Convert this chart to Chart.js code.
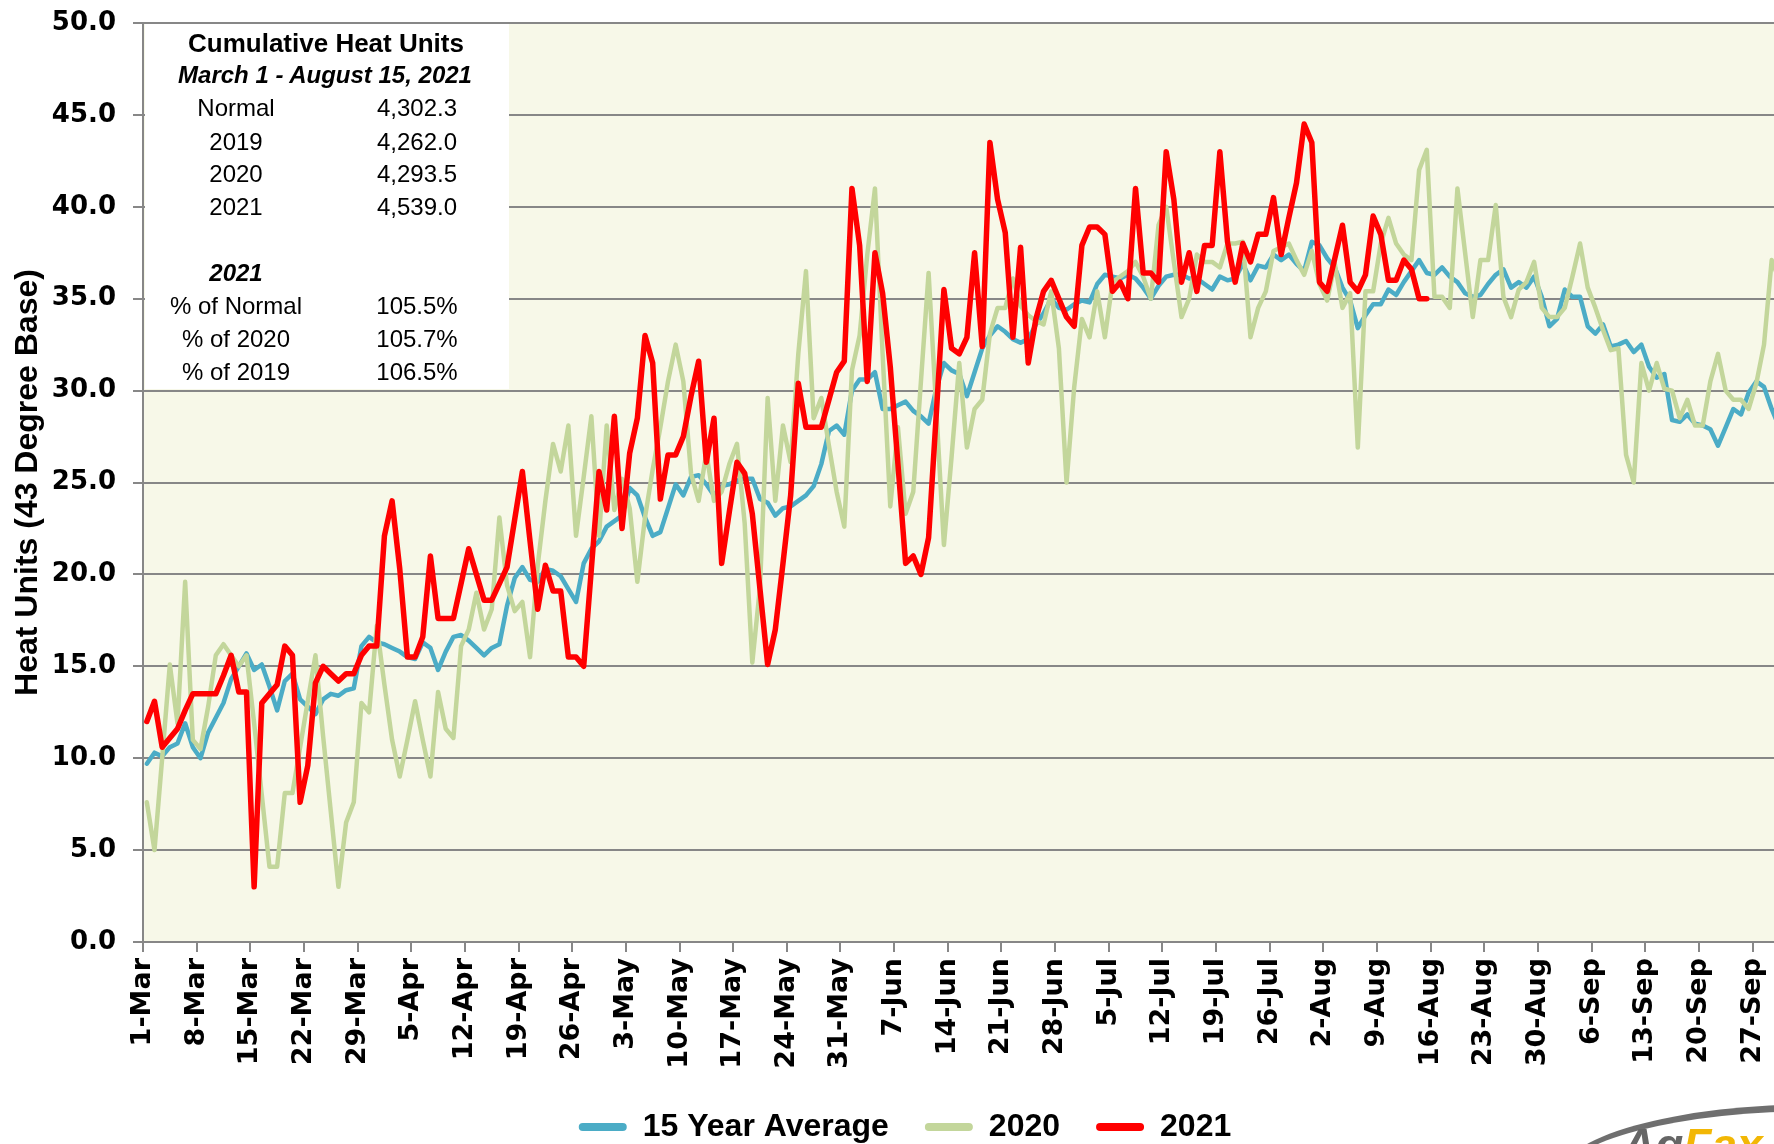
<!DOCTYPE html>
<html><head><meta charset="utf-8">
<script src="https://cdn.jsdelivr.net/npm/chart.js@4.4.0/dist/chart.umd.min.js"></script>
<style>
html,body{margin:0;padding:0;background:#fff;overflow:hidden;}
#wrap{position:relative;width:1774px;height:1144px;overflow:hidden;background:#fff;}
#c{position:absolute;left:0;top:0;}
#tbl{position:absolute;left:145px;top:24px;width:364px;height:365px;background:#fff;}
.t{position:absolute;font-family:"Liberation Sans",Arial,sans-serif;font-size:24px;color:#000;text-align:center;line-height:30px;height:30px;white-space:nowrap;}
.l{left:136px;width:200px;}
.r{left:317px;width:200px;}
#logo{position:absolute;left:1558px;top:1104px;width:520px;height:140px;border-top:7px solid #6f6f6f;border-left:5px solid #6f6f6f;border-radius:50%;}
#logotxt{position:absolute;left:1622px;top:1122px;font-family:"Liberation Sans",Arial,sans-serif;font-weight:bold;font-style:italic;font-size:46px;line-height:46px;white-space:nowrap;}
</style></head>
<body>
<div id="wrap">
<canvas id="c" width="1820" height="1153"></canvas>
<div id="tbl"></div>
<div class="t" style="left:176px;width:300px;top:28px;font-weight:bold;font-size:26px;">Cumulative Heat Units</div>
<div class="t" style="left:175px;width:300px;top:60px;font-weight:bold;font-style:italic;">March 1 - August 15, 2021</div>
<div class="t l" style="top:93px;">Normal</div><div class="t r" style="top:93px;">4,302.3</div>
<div class="t l" style="top:127px;">2019</div><div class="t r" style="top:127px;">4,262.0</div>
<div class="t l" style="top:159px;">2020</div><div class="t r" style="top:159px;">4,293.5</div>
<div class="t l" style="top:192px;">2021</div><div class="t r" style="top:192px;">4,539.0</div>
<div class="t l" style="top:258px;font-weight:bold;font-style:italic;">2021</div>
<div class="t l" style="top:291px;">% of Normal</div><div class="t r" style="top:291px;">105.5%</div>
<div class="t l" style="top:324px;">% of 2020</div><div class="t r" style="top:324px;">105.7%</div>
<div class="t l" style="top:357px;">% of 2019</div><div class="t r" style="top:357px;">106.5%</div>
<div id="logo"></div>
<div id="logotxt"><span style="color:#666">Ag</span><span style="color:#F2B705">Fax</span></div>
</div>
<script>
// Tick labels (one per week, starting 1-Mar)
const weekLabels = ['1-Mar','8-Mar','15-Mar','22-Mar','29-Mar','5-Apr','12-Apr','19-Apr','26-Apr','3-May','10-May','17-May','24-May','31-May','7-Jun','14-Jun','21-Jun','28-Jun','5-Jul','12-Jul','19-Jul','26-Jul','2-Aug','9-Aug','16-Aug','23-Aug','30-Aug','6-Sep','13-Sep','20-Sep','27-Sep'];
const yTicks = [0,5,10,15,20,25,30,35,40,45,50];
const seriesNames = ['15 Year Average','2020','2021'];

// Daily heat units, one value per day starting 1-Mar
const avg15 = [
9.7,10.3,10.1,10.6,10.8,11.9,10.6,10.0,11.4,12.2,
13.0,14.3,15.0,15.7,14.8,15.1,13.9,12.6,14.2,14.6,
13.2,12.8,12.4,13.2,13.5,13.4,13.7,13.8,16.1,16.6,
16.3,16.2,16.0,15.8,15.5,15.4,16.3,16.0,14.8,15.8,
16.6,16.7,16.4,16.0,15.6,16.0,16.2,18.3,19.8,20.4,
19.7,19.6,20.3,20.2,19.9,19.2,18.5,20.6,21.4,21.8,
22.6,22.9,23.2,24.7,24.3,23.1,22.1,22.3,23.6,24.9,
24.3,25.3,25.4,24.9,24.3,24.8,24.9,25.1,25.2,25.2,
24.1,23.9,23.2,23.6,23.7,24.0,24.3,24.8,26.0,27.8,
28.1,27.6,30.0,30.6,30.6,31.0,29.0,29.0,29.2,29.4,
28.9,28.6,28.2,30.1,31.5,31.1,30.9,29.7,31.0,32.3,
33.0,33.5,33.2,32.8,32.6,32.8,33.6,34.2,35.0,34.5,
34.4,34.7,34.9,34.8,35.8,36.3,36.2,36.1,36.3,36.1,
35.6,35.0,35.7,36.2,36.3,36.3,36.1,36.1,35.8,35.5,
36.2,36.0,36.1,36.9,36.0,36.8,36.7,37.4,37.1,37.4,
36.9,36.5,38.1,37.9,37.2,36.7,35.6,34.9,33.4,34.1,
34.7,34.7,35.5,35.2,35.9,36.5,37.1,36.4,36.3,36.7,
36.2,35.9,35.3,35.1,35.2,35.8,36.3,36.6,35.6,35.9,
35.6,36.2,35.1,33.5,33.9,35.5,35.1,35.1,33.5,33.1,
33.6,32.4,32.5,32.7,32.1,32.5,31.3,30.7,30.9,28.4,
28.3,28.7,28.2,28.1,27.9,27.0,28.0,29.0,28.7,29.9,
30.5,30.2,29.0,28.0];

const y2020 = [
7.6,5.0,10.0,15.1,11.9,19.6,11.0,10.5,12.8,15.6,
16.2,15.6,15.0,15.6,11.9,8.0,4.1,4.1,8.1,8.1,
10.6,13.1,15.6,11.2,7.1,3.0,6.5,7.6,13.0,12.5,
17.2,14.0,11.0,9.0,11.0,13.1,11.0,9.0,13.6,11.6,
11.1,16.1,17.0,19.0,17.0,18.1,23.1,19.4,18.0,18.5,
15.5,20.5,24.0,27.1,25.6,28.1,22.1,25.3,28.6,22.1,
28.1,23.5,25.2,23.6,19.6,23.1,25.7,28.0,30.5,32.5,
30.5,25.5,24.0,26.6,24.0,24.5,26.0,27.1,22.8,15.2,
19.3,29.6,24.0,28.1,26.1,32.0,36.5,28.5,29.6,27.0,
24.5,22.6,31.1,33.0,37.4,41.0,32.0,23.7,28.0,23.3,
24.5,30.5,36.4,29.0,21.6,26.4,31.5,26.9,29.0,29.5,
33.1,34.5,34.5,36.1,34.6,34.1,33.8,33.6,35.4,32.3,
25.0,30.2,33.9,32.9,35.4,32.9,35.9,36.2,36.5,37.0,
36.2,35.0,39.0,40.0,37.0,34.0,35.0,37.4,37.0,37.0,
36.7,38.0,38.0,38.1,32.9,34.5,35.4,37.6,37.8,38.0,
37.1,36.3,37.6,35.8,34.9,36.9,34.5,35.3,26.9,35.4,
35.4,38.0,39.4,38.0,37.4,37.1,42.0,43.1,35.1,35.1,
34.5,41.0,37.5,34.0,37.1,37.1,40.1,35.1,34.0,35.5,
35.9,37.0,34.5,34.0,34.0,34.5,36.2,38.0,35.6,34.5,
33.3,32.2,32.3,26.5,25.0,31.5,30.0,31.5,30.1,30.0,
28.5,29.5,28.1,28.1,30.5,32.0,30.0,29.5,29.5,29.0,
30.4,32.5,37.1,36.0];

const y2021 = [
12.0,13.1,10.6,11.1,11.6,12.6,13.5,13.5,13.5,13.5,
14.5,15.6,13.6,13.6,3.0,13.0,13.5,14.0,16.1,15.6,
7.6,9.6,14.1,15.0,14.6,14.2,14.6,14.6,15.6,16.1,
16.1,22.1,24.0,20.3,15.5,15.5,16.6,21.0,17.6,17.6,
17.6,19.5,21.4,20.0,18.6,18.6,19.5,20.4,23.0,25.6,
21.8,18.1,20.5,19.1,19.1,15.5,15.5,15.0,20.3,25.6,
23.5,28.6,22.5,26.6,28.5,33.0,31.5,24.1,26.5,26.5,
27.5,29.7,31.6,26.1,28.5,20.6,23.4,26.1,25.5,23.3,
19.2,15.1,17.0,20.6,24.3,30.4,28.0,28.0,28.0,29.5,
31.0,31.6,41.0,37.9,30.5,37.5,35.3,31.3,26.0,20.6,
21.0,20.0,22.0,28.7,35.5,32.3,32.0,32.9,37.5,32.4,
43.5,40.4,38.6,32.9,37.8,31.5,33.9,35.4,36.0,35.0,
34.0,33.5,37.9,38.9,38.9,38.5,35.4,35.9,35.0,41.0,
36.4,36.4,35.9,43.0,40.4,35.9,37.5,35.4,37.9,37.9,
43.0,38.1,35.9,38.0,37.0,38.5,38.5,40.5,37.4,39.4,
41.3,44.5,43.5,35.9,35.4,37.2,39.0,35.9,35.4,36.3,
39.5,38.5,36.0,36.0,37.1,36.6,35.0,35.0];

// Each daily value sits in the middle of its day on the date axis
const toPoints = arr => arr.map((v, i) => ({x: i + 0.5, y: v}));

const GRID = '#878787';
const bgPlugin = {
  id: 'plotBg',
  beforeDraw(chart) {
    const a = chart.chartArea, ctx = chart.ctx;
    ctx.save();
    ctx.fillStyle = '#F7F8E8';
    ctx.fillRect(a.left, a.top, a.right - a.left, a.bottom - a.top);
    ctx.restore();
  }
};

new Chart(document.getElementById('c'), {
  type: 'line',
  data: {
    datasets: [
      {label: seriesNames[0], data: toPoints(avg15), borderColor: '#4BACC6', backgroundColor: '#4BACC6', borderWidth: 4.5, order: 3},
      {label: seriesNames[1], data: toPoints(y2020), borderColor: '#C3D69B', backgroundColor: '#C3D69B', borderWidth: 4.5, order: 2},
      {label: seriesNames[2], data: toPoints(y2021), borderColor: '#FF0000', backgroundColor: '#FF0000', borderWidth: 5.5, order: 1}
    ]
  },
  options: {
    responsive: false,
    animation: false,
    events: [],
    layout: {padding: {top: 23, right: 10, bottom: 0, left: 0}},
    elements: {
      point: {radius: 0},
      line: {tension: 0, borderJoinStyle: 'round', borderCapStyle: 'round', fill: false}
    },
    scales: {
      x: {
        type: 'linear', min: 0, max: 217.5,
        afterBuildTicks: s => { s.ticks = weekLabels.map((_, i) => ({value: i * 7})); },
        afterFit: s => { s.height = 133; s.paddingLeft = 0; s.paddingRight = 0; },
        ticks: {
          autoSkip: false, minRotation: 90, maxRotation: 90, padding: 6, color: '#000',
          font: {family: 'DejaVu Sans', weight: 'bold', size: 27},
          callback: v => weekLabels[Math.round(v / 7)]
        },
        grid: {drawOnChartArea: false, drawTicks: true, tickLength: 10, color: GRID, lineWidth: 2},
        border: {display: true, color: GRID, width: 2}
      },
      y: {
        min: 0, max: 50,
        afterBuildTicks: s => { s.ticks = yTicks.map(v => ({value: v})); },
        afterFit: s => { s.width = 143; s.paddingTop = 0; s.paddingBottom = 0; },
        ticks: {
          padding: 17, color: '#000',
          font: {family: 'DejaVu Sans', weight: 'bold', size: 26},
          callback: v => Number(v).toFixed(1)
        },
        grid: {color: GRID, lineWidth: 2, tickLength: 10, drawTicks: true},
        border: {display: true, color: GRID, width: 2},
        title: {
          display: true, text: 'Heat Units (43 Degree Base)', color: '#000',
          font: {family: 'Liberation Sans', weight: 'bold', size: 32},
          padding: {top: 9, bottom: 0}
        }
      }
    },
    plugins: {
      tooltip: {enabled: false},
      legend: {
        display: true, position: 'bottom',
        labels: {
          boxWidth: 48, boxHeight: 8, padding: 36, color: '#000',
          font: {family: 'Liberation Sans', weight: 'bold', size: 32},
          sort: (a, b) => a.datasetIndex - b.datasetIndex,
          generateLabels(chart) {
            const items = Chart.defaults.plugins.legend.labels.generateLabels(chart);
            items.forEach(it => { it.lineWidth = 0; it.borderRadius = 4; });
            return items;
          }
        }
      }
    }
  },
  plugins: [bgPlugin]
});
</script>
</body></html>
